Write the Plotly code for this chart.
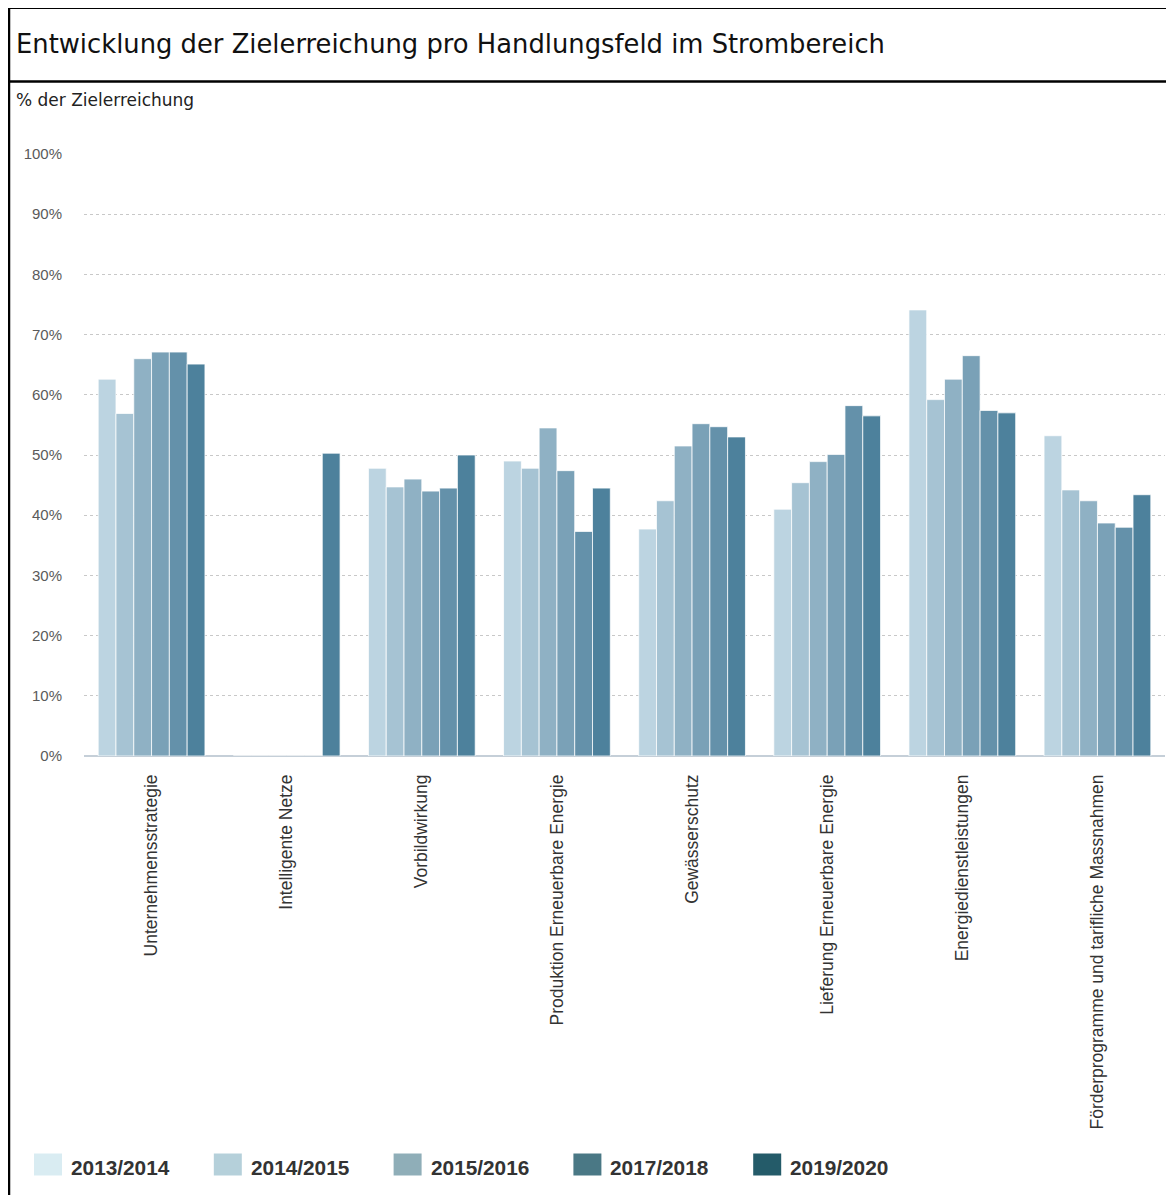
import plotly.graph_objects as go

categories = [
    "Unternehmensstrategie",
    "Intelligente Netze",
    "Vorbildwirkung",
    "Produktion Erneuerbare Energie",
    "Gewässerschutz",
    "Lieferung Erneuerbare Energie",
    "Energiedienstleistungen",
    "Förderprogramme und tarifliche Massnahmen",
]

series_names = ["2013/2014", "2014/2015", "2015/2016", "2016/2017", "2017/2018", "2019/2020"]
s1 = [62.6, 0, 47.8, 49.0, 37.7, 41.0, 74.1, 53.2]
s2 = [56.9, 0, 44.7, 47.8, 42.4, 45.4, 59.2, 44.2]
s3 = [66.0, 0, 46.0, 54.5, 51.5, 48.9, 62.6, 42.4]
s4 = [67.1, 0, 44.0, 47.4, 55.2, 50.1, 66.5, 38.7]
s5 = [67.1, 0, 44.5, 37.3, 54.7, 58.2, 57.4, 38.0]
s6 = [65.1, 50.3, 50.0, 44.5, 53.0, 56.5, 57.0, 43.4]
series_values = [s1, s2, s3, s4, s5, s6]
bar_colors = ["#bcd4e1", "#a6c3d3", "#8fb1c4", "#7aa1b7", "#6491aa", "#4d819c"]

legend_labels = ["2013/2014", "2014/2015", "2015/2016", "2017/2018", "2019/2020"]
legend_colors = ["#d9ecf2", "#b5d0da", "#8faeb8", "#4a7885", "#245b69"]

y_ticks = [0, 10, 20, 30, 40, 50, 60, 70, 80, 90, 100]
y_tick_labels = ["0%", "10%", "20%", "30%", "40%", "50%", "60%", "70%", "80%", "90%", "100%"]

OFF = 8  # page body margin
W, H = 1174 - OFF, 1195 - OFF
PLOT_X0, PLOT_X1, PLOT_Y0, PLOT_Y1 = 84 - OFF, 1165 - OFF, 154 - OFF, 756 - OFF
L, R, T, B = PLOT_X0, W - PLOT_X1, PLOT_Y0, H - PLOT_Y1
PW, PH = PLOT_X1 - PLOT_X0, PLOT_Y1 - PLOT_Y0


def px(x):
    return (x - OFF - PLOT_X0) / PW


def py(y):
    return (PLOT_Y1 - (y - OFF)) / PH


fig = go.Figure()
for name, vals, col in zip(series_names, series_values, bar_colors):
    fig.add_trace(go.Bar(
        x=categories, y=vals, name=name, showlegend=False,
        marker=dict(color=col, line=dict(color="rgba(255,255,255,0.75)", width=1)),
        hovertemplate="%{x}<br>" + name + ": %{y}%<extra></extra>",
    ))

shapes = []
annotations = []

# frame
shapes.append(dict(type="line", xref="paper", yref="paper", x0=px(8), x1=px(1190), y0=py(8), y1=py(8),
                   line=dict(color="black", width=2)))
shapes.append(dict(type="line", xref="paper", yref="paper", x0=px(8), x1=px(1190), y0=py(81.5), y1=py(81.5),
                   line=dict(color="black", width=2.5)))
shapes.append(dict(type="line", xref="paper", yref="paper", x0=px(9), x1=px(9), y0=py(7), y1=py(1210),
                   line=dict(color="black", width=2.5)))

annotations.append(dict(text="Entwicklung der Zielerreichung pro Handlungsfeld im Strombereich",
                        xref="paper", yref="paper", x=px(14), y=py(44), xanchor="left", yanchor="middle",
                        showarrow=False, font=dict(family="DejaVu Sans", size=25.8, color="#111111")))
annotations.append(dict(text="% der Zielerreichung",
                        xref="paper", yref="paper", x=px(14), y=py(100), xanchor="left", yanchor="middle",
                        showarrow=False, font=dict(family="DejaVu Sans", size=17, color="#222222")))

# legend
for i, (lab, col) in enumerate(zip(legend_labels, legend_colors)):
    x0 = 34 + 179.8 * i
    shapes.append(dict(type="rect", xref="paper", yref="paper", x0=px(x0), x1=px(x0 + 28),
                       y0=py(1153.5), y1=py(1175.5), fillcolor=col, line=dict(width=0)))
    annotations.append(dict(text="<b>" + lab + "</b>", xref="paper", yref="paper", x=px(x0 + 35), y=py(1167),
                            xanchor="left", yanchor="middle", showarrow=False,
                            font=dict(family="Liberation Sans", size=20.8, color="#333333")))

fig.update_layout(
    width=W, height=H,
    margin=dict(l=L, r=R, t=T, b=B, autoexpand=False),
    paper_bgcolor="white", plot_bgcolor="white",
    barmode="group", bargap=0.21, bargroupgap=0,
    showlegend=False,
    shapes=shapes, annotations=annotations,
    font=dict(family="Liberation Sans"),
)
fig.update_yaxes(
    range=[0, 100], tickvals=y_ticks, ticktext=y_tick_labels,
    showgrid=True, gridcolor="#c8c8c8", griddash="dot", gridwidth=1,
    zeroline=True, zerolinecolor="#c5cfd8", zerolinewidth=2,
    tickfont=dict(family="Liberation Sans", size=15, color="#5a5a5a"),
    ticks="", ticklabelstandoff=21, showline=False,
)
fig.update_xaxes(
    tickangle=-90, tickfont=dict(family="Liberation Sans", size=17.5, color="#333333"),
    ticks="", ticklabelstandoff=14, showline=False, showgrid=False,
)

fig.write_html("out.html")
